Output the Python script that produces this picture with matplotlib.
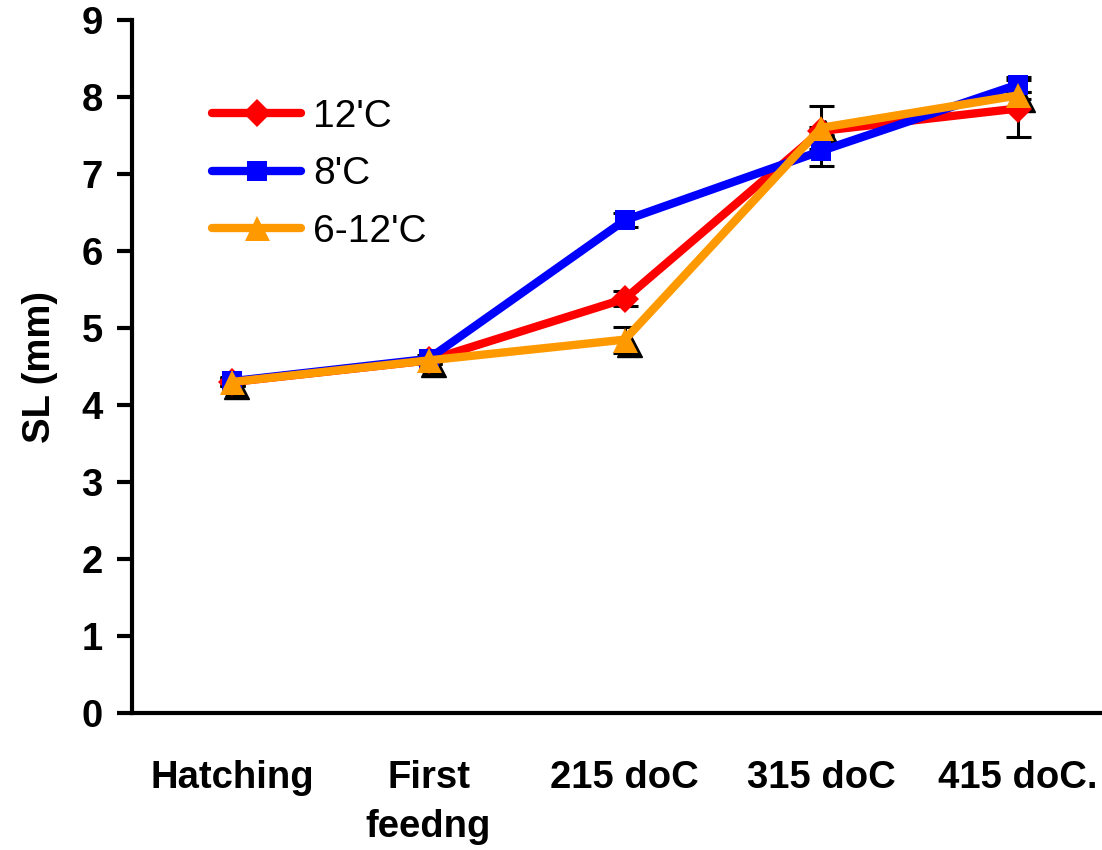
import matplotlib
matplotlib.use("Agg")
import matplotlib.pyplot as plt
import matplotlib.transforms as mtransforms

plt.rcParams['font.family'] = ['Liberation Sans', 'DejaVu Sans']

# stages along the x axis
stages = ["Hatching", "First\nfeedng", "215 doC", "315 doC", "415 doC."]

# standard length (mm) per temperature regime, with standard errors
sl_12 = [4.30, 4.58, 5.38, 7.56, 7.85]
err_12 = [0.05, 0.05, 0.10, 0.05, 0.37]
sl_8 = [4.31, 4.60, 6.40, 7.30, 8.16]
err_8 = [0.05, 0.05, 0.09, 0.20, 0.10]
sl_6_12 = [4.30, 4.58, 4.85, 7.60, 8.02]
err_6_12 = [0.05, 0.05, 0.17, 0.28, 0.05]

labels = ["12'C", "8'C", "6-12'C"]
colors = ["#FF0000", "#0000FF", "#FF9900"]
markers = ["D", "s", "^"]
msizes = [14, 15, 18]

fig = plt.figure(figsize=(11.02, 8.5), dpi=100)
ax = fig.add_axes([0.1198, 0.161, 0.8802, 0.8155])

x = list(range(len(stages)))
series = [sl_12, sl_8, sl_6_12]
errors = [err_12, err_8, err_6_12]

# error bars sit underneath the lines
for y, e in zip(series, errors):
    ax.errorbar(x, y, yerr=e, fmt='none', ecolor='black', elinewidth=2.2,
                capsize=9, capthick=2.2, zorder=1)

# dark drop shadow behind the triangle markers
shadow = mtransforms.offset_copy(ax.transData, fig=fig, x=4, y=-4, units='dots')
ax.plot(x, sl_6_12, linestyle='none', marker='^', markersize=msizes[2],
        color='black', transform=shadow, zorder=2)

for y, lab, c, m, ms in zip(series, labels, colors, markers, msizes):
    ax.plot(x, y, color=c, linewidth=6, marker=m, markersize=ms,
            markeredgewidth=0, label=lab, zorder=3, solid_capstyle='round')

ax.set_ylim(0, 9)
ax.set_xlim(-0.51, 4.43)
ax.set_yticks(range(0, 10))
ax.set_xticks(x)
ax.set_xticklabels(stages, fontsize=27.5, fontweight='bold', va='top',
                   linespacing=1.45)
ax.tick_params(axis='x', length=0, pad=34)
ax.tick_params(axis='y', length=11, width=3, pad=10, labelsize=27.5)
for t in ax.get_yticklabels():
    t.set_fontweight('bold')

ax.set_ylabel("SL (mm)", fontsize=27.5, fontweight='bold', labelpad=17)

for s in ['top', 'right']:
    ax.spines[s].set_visible(False)
for s in ['left', 'bottom']:
    ax.spines[s].set_linewidth(3)
ax.spines['bottom'].set_zorder(0.5)

leg = ax.legend(loc='upper left', bbox_to_anchor=(212 / 1102, 1 - 99 / 850),
                bbox_transform=fig.transFigure, frameon=False, fontsize=28,
                handlelength=2.3, handletextpad=0.3, labelspacing=0.55,
                borderpad=0, borderaxespad=0)

fig.savefig("out.png", dpi=100)
